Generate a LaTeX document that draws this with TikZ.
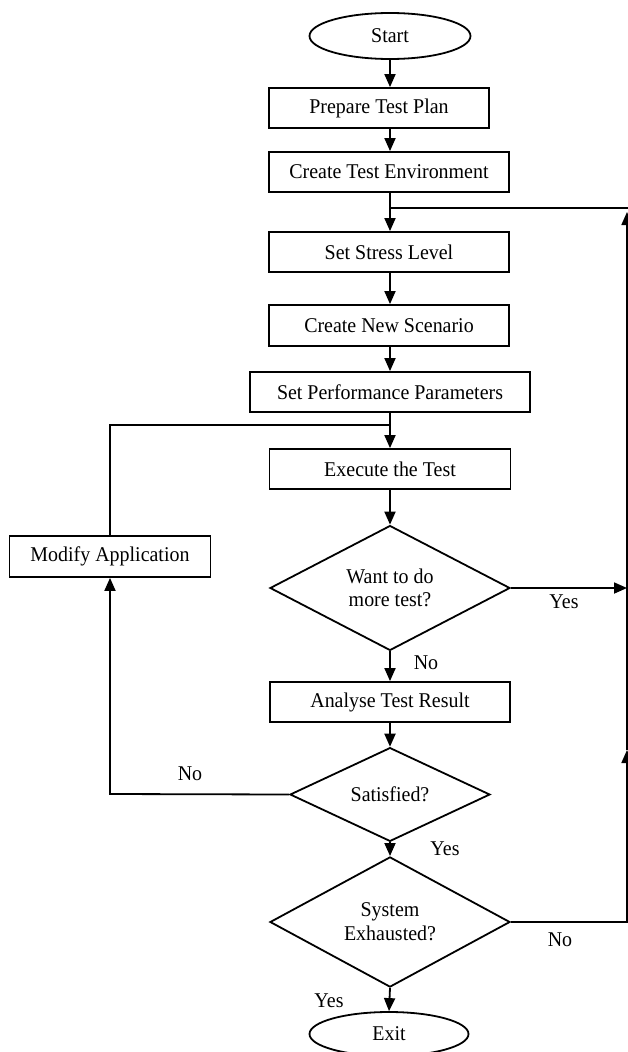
\documentclass[tikz,border=0pt]{standalone}
\usepackage{fontspec}
\setmainfont{Liberation Serif}[FakeStretch=0.95]
\usetikzlibrary{shapes.geometric,arrows.meta}
\begin{document}
\begin{tikzpicture}[x=1pt,y=-1pt,
  every node/.style={font=\fontsize{21}{23}\selectfont},
  box/.style={draw,line width=1.8pt,minimum height=40pt,inner sep=0pt},
  dia/.style={draw,diamond,line width=1.8pt,inner sep=0pt,align=center},
  term/.style={draw,ellipse,line width=1.8pt,inner sep=0pt,minimum width=161pt,minimum height=46pt},
  arr/.style={line width=1.8pt,-{Triangle[length=13pt,width=11pt]}},
  ln/.style={line width=1.8pt},
  lbl/.style={inner sep=0pt}]
\useasboundingbox (0,0) rectangle (628,1052);

% nodes
\node[term] (start) at (390,36) {Start};
\node[box,minimum width=220pt] (prep) at (379,108) {Prepare Test Plan};
\node[box,minimum width=240pt] (env) at (389,172) {Create Test Environment};
\node[box,minimum width=240pt] (stress) at (389,252) {Set Stress Level};
\node[box,minimum width=240pt,minimum height=41pt] (scen) at (389,325.5) {Create New Scenario};
\node[box,minimum width=280pt] (perf) at (390,392) {Set Performance Parameters};
\node[box,minimum width=241pt] (exec) at (390,469) {Execute the Test};
\node[box,minimum width=201pt,minimum height=41pt] (modify) at (110,556.5) {Modify Application};
\node[dia,minimum width=240pt,minimum height=118pt] (want) at (390,588) {Want to do\\more test?};
\node[box,minimum width=240pt] (ana) at (390,702) {Analyse Test Result};
\node[dia,minimum width=200pt,minimum height=77pt] (sat) at (390,794.5) {Satisfied?};
\node[dia,minimum width=240pt,minimum height=118pt,font=\fontsize{21}{24}\selectfont] (sys) at (390,922) {System\\Exhausted?};
\node[term,minimum width=159pt,minimum height=44pt] (exit) at (389,1034) {Exit};

% labels
\node[lbl] (yes1) at (564,602) {Yes};
\node[lbl] (no1) at (426,663) {No};
\node[lbl] (no2) at (190,774) {No};
\node[lbl] (yes2) at (445,849) {Yes};
\node[lbl] (no3) at (560,940) {No};
\node[lbl] (yes3) at (329,1001) {Yes};

% helper coordinates
\coordinate (j1) at (390,208);
\coordinate (j2) at (390,425);
\coordinate (rx) at (627,0);
\coordinate (r1) at (627,922);
\coordinate (r2) at (627,750);
\coordinate (r3) at (627,212);
\coordinate (r4) at (628,208);
\coordinate (l1) at (110,794);
\coordinate (l2) at (110,425);

% main spine
\draw[arr] (start.south) -- (start.south |- prep.north);
\draw[arr] (prep.south -| start.south) -- (env.north -| start.south);
\draw[arr] (env.south -| start.south) -- (stress.north -| start.south);
\draw[arr] (stress.south -| start.south) -- (scen.north -| start.south);
\draw[arr] (scen.south -| start.south) -- (perf.north);
\draw[arr] (perf.south) -- (exec.north);
\draw[arr] (exec.south) -- (want.north);
\draw[arr] (want.south) -- (ana.north);
\draw[arr] (ana.south) -- (sat.north);
\draw[arr] (sat.south) -- (sys.north);
\draw[arr] (sys.south) -- (exit.north);

% right loop
\draw[arr] (want.east) -- (want.east -| rx);
\draw[arr] (sys.east) -- (r1) -- (r2);
\draw[arr] (r2) -- (r3);
\draw[ln] (r4) -- (j1);

% left loop
\draw[arr] (sat.west) -- (l1) -- (modify.south);
\draw[ln] (modify.north) -- (l2) -- (j2);
\end{tikzpicture}
\end{document}
